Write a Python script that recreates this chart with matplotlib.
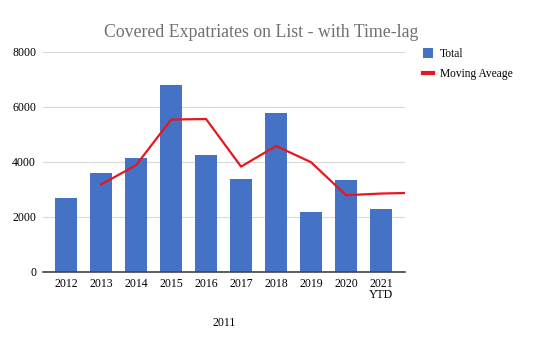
import matplotlib.pyplot as plt
import numpy as np
from matplotlib.lines import Line2D

# Data
years = ['2012', '2013', '2014', '2015', '2016', '2017', '2018', '2019', '2020', '2021\nYTD']
totals = [2700, 3600, 4150, 6800, 4250, 3380, 5780, 2180, 3350, 2300]
# moving average starts at 2013; last point runs off the right edge
ma_values = [3180, 3880, 5540, 5560, 3830, 4580, 3990, 2790, 2850, 2880]

plt.rcParams['font.family'] = ['Liberation Serif', 'DejaVu Serif']

fig = plt.figure(figsize=(5.55, 3.46), dpi=100)
ax = fig.add_axes([0.0775, 0.214, 0.6525, 0.636])

x = np.arange(len(years))
bars = ax.bar(x, totals, width=0.63, color='#4472c4', label='Total', zorder=2)
ma_x = np.arange(1, 1 + len(ma_values))
ax.plot(ma_x, ma_values, color='#e8161f', linewidth=1.6, label='Moving Aveage', zorder=3)

ax.set_xlim(-0.66, 9.69)
ax.set_ylim(0, 8000)
ax.set_yticks([0, 2000, 4000, 6000, 8000])
ax.set_xticks(x)
ax.set_xticklabels(years, fontsize=8.5, linespacing=0.9)
ax.tick_params(axis='y', labelsize=8.5, length=0, pad=5)
ax.tick_params(axis='x', length=0, pad=4)
ax.grid(axis='y', color='#d9d9d9', linewidth=0.8, zorder=0)
for s in ['top', 'right', 'left']:
    ax.spines[s].set_visible(False)
ax.spines['bottom'].set_color('#444444')
ax.spines['bottom'].set_linewidth(1.2)

ax.set_xlabel('2011', fontsize=8.5, labelpad=12)
fig.suptitle('Covered Expatriates on List - with Time-lag', x=0.47, y=0.93,
             fontsize=12.8, color='#707070')

line_handle = Line2D([], [], color='#e8161f', linewidth=3)
ax.legend([bars, line_handle], ['Total', 'Moving Aveage'], loc='upper left',
          bbox_to_anchor=(1.02, 1.065), frameon=False, fontsize=8.3,
          handlelength=0.9, handleheight=1.0, labelspacing=0.7, handletextpad=0.6)

fig.savefig('out.png', dpi=100)
